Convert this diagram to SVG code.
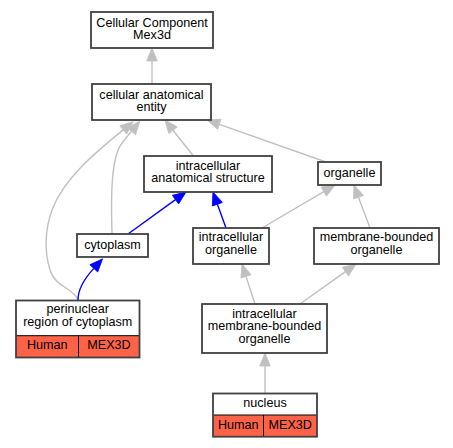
<svg xmlns="http://www.w3.org/2000/svg" width="453" height="448" viewBox="0 0 453 448">
<style>
.box{fill:#ffffff;stroke:#404040;stroke-width:1.8}
.frame{fill:none;stroke:#404040;stroke-width:1.8}
.cell{fill:#ff6347;stroke:none}
.div{stroke:#000000;stroke-width:1;fill:none}
text{font-family:"Liberation Sans",Arial,sans-serif;font-size:12.6px;fill:#000000;text-anchor:middle}
.g{fill:none;stroke:#c0c0c0;stroke-width:1.4;marker-end:url(#ag)}
.b{fill:none;stroke:#0000ff;stroke-width:1.4;marker-end:url(#ab)}
</style>
<defs>
<marker id="ag" markerUnits="userSpaceOnUse" viewBox="0 0 13 10.6" refX="0" refY="5.3" markerWidth="13" markerHeight="10.6" orient="auto" overflow="visible">
<path d="M0,0 L13,5.3 L0,10.6 z" fill="#c0c0c0" stroke="#c0c0c0" stroke-width="0.8"/>
</marker>
<marker id="ab" markerUnits="userSpaceOnUse" viewBox="0 0 13 10.6" refX="0" refY="5.3" markerWidth="13" markerHeight="10.6" orient="auto" overflow="visible">
<path d="M0,0 L13,5.3 L0,10.6 z" fill="#0000ff" stroke="#0000ff" stroke-width="0.8"/>
</marker>
</defs>
<rect width="453" height="448" fill="#ffffff"/>
<g id="edges">
<path class="g" d="M152,84 L152,61"/>
<path class="g" d="M193,155.5 L173,130.2"/>
<path class="g" d="M326,162 L219.3,124.3"/>
<path class="g" d="M78,300 C74,288 55,287 50,270 C44,250 45,230 52,210 C64,178 96,152 123.2,129.9"/>
<path class="g" d="M112,234 C111,200 111,168 118,150 C121,143 126,138 131.5,131.3"/>
<path class="b" d="M128,234 L175.5,199.6"/>
<path class="b" d="M226,228 L217.4,204.2"/>
<path class="b" d="M78,300 C78,290 85,278 93.8,268.4"/>
<path class="g" d="M262,228 L323.8,191.6"/>
<path class="g" d="M370,228 L358.5,197.2"/>
<path class="g" d="M255,304 L246,276.4"/>
<path class="g" d="M300,304 L345.4,271.6"/>
<path class="g" d="M265,393 L265,366"/>
</g>
<g id="ccm">
<rect class="box" x="91" y="12" width="122" height="36"/>
<text x="152" y="26.9">Cellular Component</text>
<text x="152" y="39.4">Mex3d</text>
</g>
<g id="cae">
<rect class="box" x="92" y="84" width="119" height="36"/>
<text x="151.5" y="98.75">cellular anatomical</text>
<text x="151.5" y="111.25">entity</text>
</g>
<g id="ias">
<rect class="box" x="144" y="156" width="128" height="36"/>
<text x="208" y="169.75">intracellular</text>
<text x="208" y="182.25">anatomical structure</text>
</g>
<g id="organelle">
<rect class="box" x="318" y="162" width="63" height="23"/>
<text x="349.5" y="176.7">organelle</text>
</g>
<g id="cytoplasm">
<rect class="box" x="77" y="234" width="71" height="23"/>
<text x="112.5" y="249.3">cytoplasm</text>
</g>
<g id="io">
<rect class="box" x="193" y="228" width="76" height="36"/>
<text x="231" y="241.25">intracellular</text>
<text x="231" y="253.75">organelle</text>
</g>
<g id="mbo">
<rect class="box" x="314" y="228" width="125" height="36"/>
<text x="376.5" y="241.25">membrane-bounded</text>
<text x="376.5" y="253.75">organelle</text>
</g>
<g id="imbo">
<rect class="box" x="202" y="304" width="125" height="49"/>
<text x="264.5" y="317.9">intracellular</text>
<text x="264.5" y="330.4">membrane-bounded</text>
<text x="264.5" y="342.9">organelle</text>
</g>
<g id="perinuclear">
<rect x="16" y="300.5" width="123.5" height="35.2" fill="#ffffff"/>
<rect class="cell" x="16" y="335.7" width="123.5" height="21.8"/>
<line class="div" x1="16" y1="335.7" x2="139.5" y2="335.7"/>
<line class="div" x1="78.5" y1="335.7" x2="78.5" y2="357.5"/>
<rect class="frame" x="16" y="300.5" width="123.5" height="57"/>
<text x="77.75" y="313.25">perinuclear</text>
<text x="77.75" y="325.75">region of cytoplasm</text>
<text x="47.2" y="349">Human</text>
<text x="109" y="349">MEX3D</text>
</g>
<g id="nucleus">
<rect x="213" y="393.5" width="104" height="21.5" fill="#ffffff"/>
<rect class="cell" x="213" y="415" width="104" height="21.7"/>
<line class="div" x1="213" y1="415" x2="317" y2="415"/>
<line class="div" x1="263.5" y1="415" x2="263.5" y2="436.7"/>
<rect class="frame" x="213" y="393.5" width="104" height="43.2"/>
<text x="265" y="406.7">nucleus</text>
<text x="238.2" y="429">Human</text>
<text x="290.2" y="429">MEX3D</text>
</g>
</svg>
